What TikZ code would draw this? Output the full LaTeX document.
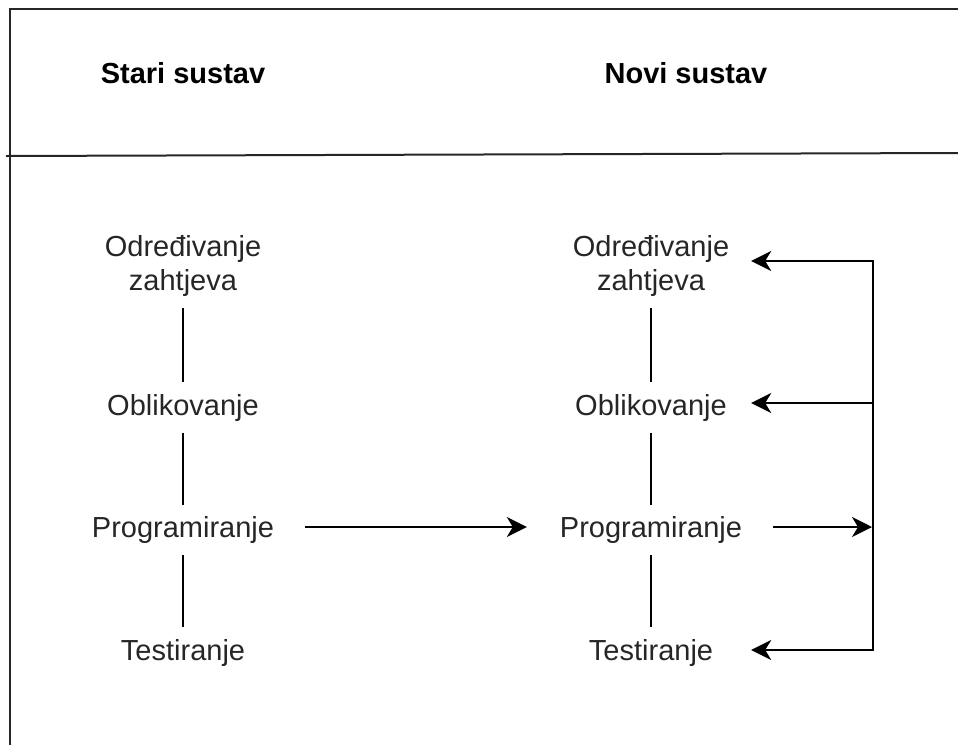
\documentclass[tikz,border=0pt]{standalone}
\usepackage{fontspec}
\setmainfont{Liberation Sans}
\usetikzlibrary{arrows.meta}
\begin{document}
\begin{tikzpicture}[x=1pt,y=-1pt,
  frame/.style={line width=2pt, draw=black!85},
  conn/.style={line width=1.8pt, draw=black},
  arr/.style={conn, -{Stealth[length=20pt,width=20pt,inset=6pt]}},
  lbl/.style={font=\fontsize{29}{34}\selectfont, text=black!85, inner xsep=0pt, inner ysep=0pt, minimum width=200pt, minimum height=50pt, text height=21pt, text depth=6pt},
  two/.style={font=\fontsize{29}{34}\selectfont, text=black!85, align=center, inner xsep=0pt, inner ysep=12pt, minimum width=200pt},
  hdr/.style={font=\fontsize{29}{34}\selectfont\bfseries, text=black, anchor=base}
]
\useasboundingbox (0,0) rectangle (958,745);

% frame
\draw[frame] (10,745) -- (10,9) -- (958,9);
\draw[frame] (6,156) -- (958,153);

% headers
\node[hdr] (h1) at (183,83) {Stari sustav};
\node[hdr] (h2) at (686,83) {Novi sustav};

% left column
\node[two] (a1) at (183,265.5) {Određivanje\\zahtjeva};
\node[lbl] (a2) at (183,407.5) {Oblikovanje};
\node[lbl] (a3) at (183,530) {Programiranje};
\node[lbl] (a4) at (183,652.5) {Testiranje};

% right column
\node[two] (b1) at (651,265.5) {Određivanje\\zahtjeva};
\node[lbl] (b2) at (651,407.5) {Oblikovanje};
\node[lbl] (b3) at (651,530) {Programiranje};
\node[lbl] (b4) at (651,652.5) {Testiranje};

\draw[conn] (a1) -- (a2);
\draw[conn] (a2) -- (a3);
\draw[conn] (a3) -- (a4);
\draw[conn] (b1) -- (b2);
\draw[conn] (b2) -- (b3);
\draw[conn] (b3) -- (b4);

% bus coordinates
\coordinate (t1) at (873,261);
\coordinate (t2) at (873,403);
\coordinate (t3) at (873,527);
\coordinate (t4) at (873,650);

% arrows
\draw[arr, shorten <=22pt, shorten >=24pt] (a3.east |- t3) -- (b3.west |- t3);
\draw[arr, shorten <=22pt, shorten >=1pt] (b3.east |- t3) -- (t3);
\draw[arr] (t3) -- (t1) -- (t1 -| b1.east);
\draw[arr] (t3) -- (t4) -- (t4 -| b4.east);
\draw[arr] (t2) -- (t2 -| b2.east);
\end{tikzpicture}
\end{document}
